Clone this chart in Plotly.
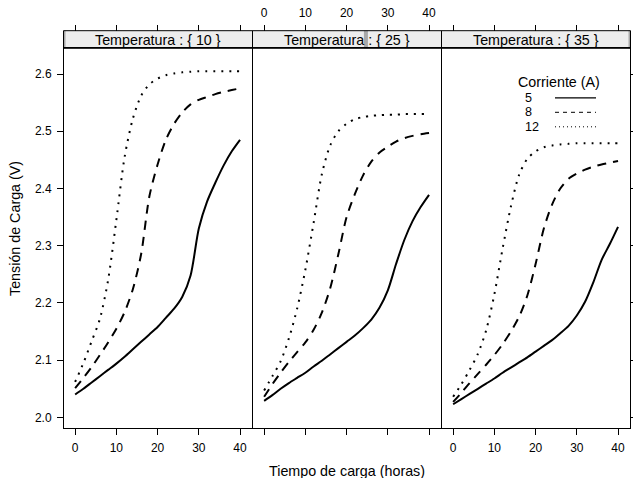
import math
import plotly.graph_objects as go

# Charge time grid (hours) shared by every curve
horas = list(range(0, 41, 2))

temperaturas = [10, 25, 35]
corrientes = [5, 8, 12]
etiquetas_x = [0, 10, 20, 30, 40]
etiquetas_y = [2.0, 2.1, 2.2, 2.3, 2.4, 2.5, 2.6]

# Charge voltage (V) per temperature and current
v_t10_i5 = [2.040, 2.050, 2.061, 2.072, 2.083, 2.094, 2.106, 2.119, 2.132, 2.145, 2.158,
            2.174, 2.190, 2.211, 2.248, 2.330, 2.377, 2.410, 2.440, 2.465, 2.485]
v_t10_i8 = [2.051, 2.069, 2.088, 2.109, 2.131, 2.155, 2.184, 2.224, 2.285, 2.386, 2.442,
            2.485, 2.513, 2.533, 2.547, 2.555, 2.560, 2.565, 2.569, 2.572, 2.575]
v_t10_i12 = [2.062, 2.095, 2.133, 2.172, 2.240, 2.345, 2.455, 2.522, 2.562, 2.582, 2.592,
             2.598, 2.601, 2.603, 2.604, 2.605, 2.605, 2.605, 2.605, 2.605, 2.605]

v_t25_i5 = [2.029, 2.039, 2.050, 2.060, 2.069, 2.078, 2.089, 2.099, 2.110, 2.121, 2.132,
            2.143, 2.156, 2.171, 2.192, 2.222, 2.268, 2.310, 2.343, 2.368, 2.389]
v_t25_i8 = [2.036, 2.058, 2.078, 2.097, 2.114, 2.131, 2.153, 2.183, 2.225, 2.285, 2.350,
            2.390, 2.423, 2.447, 2.463, 2.473, 2.482, 2.488, 2.492, 2.495, 2.497]
v_t25_i12 = [2.047, 2.072, 2.098, 2.138, 2.190, 2.258, 2.340, 2.425, 2.475, 2.500, 2.513,
             2.521, 2.525, 2.527, 2.528, 2.529, 2.529, 2.530, 2.530, 2.530, 2.530]

v_t35_i5 = [2.023, 2.032, 2.041, 2.050, 2.059, 2.068, 2.078, 2.087, 2.096, 2.105, 2.115,
            2.125, 2.135, 2.147, 2.160, 2.178, 2.202, 2.236, 2.275, 2.303, 2.333]
v_t35_i8 = [2.027, 2.043, 2.060, 2.076, 2.092, 2.109, 2.128, 2.150, 2.176, 2.213, 2.268,
            2.330, 2.372, 2.400, 2.417, 2.426, 2.433, 2.438, 2.442, 2.445, 2.448]
v_t35_i12 = [2.036, 2.058, 2.083, 2.111, 2.152, 2.215, 2.295, 2.368, 2.424, 2.452, 2.465,
             2.472, 2.475, 2.477, 2.478, 2.479, 2.479, 2.479, 2.479, 2.479, 2.479]

series = {
    10: [v_t10_i5, v_t10_i8, v_t10_i12],
    25: [v_t25_i5, v_t25_i8, v_t25_i12],
    35: [v_t35_i5, v_t35_i8, v_t35_i12],
}

W, H = 633, 478
FONT = "Liberation Sans, Arial, Helvetica, sans-serif"


def fx(px):
    return px / W


def fy(py):
    return 1 - py / H


# panel geometry in pixels; neighbouring panels share one border line
inicios = [64, 253, 442]
finales = [252, 441, 630]
panel_top, panel_bottom = 48.3, 427.7
strip_top = 30.7
xr = [-2.7, 42.9]
yr = [1.982, 2.645]

estilos = [
    dict(dash="solid", width=2),
    dict(dash="9px,7px", width=2),
    dict(dash="2px,6px", width=2),
]
estilos_leyenda = [
    dict(dash="solid", width=1.2),
    dict(dash="4px,4px", width=1),
    dict(dash="1px,3px", width=1),
]

fig = go.Figure()

for i, t in enumerate(temperaturas):
    sx = "x" if i == 0 else f"x{i + 1}"
    sy = "y" if i == 0 else f"y{i + 1}"
    for j, c in enumerate(corrientes):
        fig.add_trace(go.Scatter(
            x=horas, y=series[t][j], xaxis=sx, yaxis=sy, mode="lines",
            line=dict(color="black", shape="spline", smoothing=0.8, **estilos[j]),
            showlegend=False, hoverinfo="skip",
        ))
    # empty trace so the tick row above each strip is laid out
    fig.add_trace(go.Scatter(
        x=etiquetas_x, y=[math.nan] * len(etiquetas_x),
        xaxis=f"x{i + 4}", yaxis=sy, mode="lines",
        showlegend=False, hoverinfo="skip",
    ))

tickfont = dict(family=FONT, size=12, color="black")
ejes = {}
for i in range(3):
    dom = [fx(inicios[i]), fx(finales[i])]
    n = "" if i == 0 else str(i + 1)
    ejes[f"xaxis{n}"] = dict(
        domain=dom, anchor=f"y{n}", range=xr, tickvals=etiquetas_x,
        ticks="outside", ticklen=6, tickwidth=1, tickcolor="black",
        showticklabels=(i != 1), tickfont=tickfont, ticklabelstandoff=3,
        showline=True, linecolor="black", linewidth=1, mirror=True,
        showgrid=False, zeroline=False, fixedrange=True,
    )
    ejes[f"yaxis{n}"] = dict(
        domain=[fy(panel_bottom), fy(panel_top)], anchor=f"x{n}", range=yr,
        tickvals=etiquetas_y, tickformat=".1f",
        ticks=("" if i == 1 else "outside"), ticklen=6, tickwidth=1, tickcolor="black",
        side=("right" if i == 2 else "left"),
        showticklabels=(i == 0), tickfont=tickfont, ticklabelstandoff=3,
        showline=True, linecolor="black", linewidth=1, mirror=True,
        showgrid=False, zeroline=False, fixedrange=True,
    )
    # tick row above the strips
    ejes[f"xaxis{i + 4}"] = dict(
        domain=dom, overlaying=f"x{n}", anchor="free", position=fy(strip_top),
        side="top", range=xr, tickvals=etiquetas_x,
        ticks="outside", ticklen=6, tickwidth=1, tickcolor="black",
        showticklabels=(i == 1), tickfont=tickfont, ticklabelstandoff=3,
        showline=False, showgrid=False, zeroline=False, fixedrange=True,
    )

shapes = []
annotations = []
posiciones_nivel = [0.0, 0.6, 1.0]
for i, t in enumerate(temperaturas):
    x0, x1 = inicios[i] - 0.5, finales[i] + 0.5
    shapes.append(dict(type="rect", xref="paper", yref="paper",
                       x0=fx(x0), x1=fx(x1), y0=fy(panel_top), y1=fy(strip_top),
                       fillcolor="#EDEDED", line=dict(width=0), layer="below"))
    p = x0 + posiciones_nivel[i] * (x1 - x0)
    a, b = max(x0, p - 2), min(x1, p + 2)
    shapes.append(dict(type="rect", xref="paper", yref="paper",
                       x0=fx(a), x1=fx(b), y0=fy(panel_top), y1=fy(strip_top),
                       fillcolor="#A8A8A8", line=dict(width=0), layer="below"))
    shapes.append(dict(type="rect", xref="paper", yref="paper",
                       x0=fx(x0), x1=fx(x1), y0=fy(panel_top), y1=fy(strip_top),
                       fillcolor="rgba(0,0,0,0)", line=dict(color="black", width=1)))
    annotations.append(dict(
        xref="paper", yref="paper", x=fx((x0 + x1) / 2), y=fy(39.5),
        text=f"Temperatura : {{ {t} }}", showarrow=False,
        xanchor="center", yanchor="middle",
        font=dict(family=FONT, size=14.3, color="black"),
    ))

# key for the current levels
annotations.append(dict(xref="paper", yref="paper", x=fx(559.2), y=fy(82.3),
                        text="Corriente (A)", showarrow=False,
                        xanchor="center", yanchor="middle",
                        font=dict(family=FONT, size=14.3, color="black")))
filas = [97.8, 112.3, 126.8]
for j, c in enumerate(corrientes):
    annotations.append(dict(xref="paper", yref="paper", x=fx(523.7), y=fy(filas[j]),
                            text=str(c), showarrow=False,
                            xanchor="left", yanchor="middle", borderpad=0,
                            font=dict(family=FONT, size=12.6, color="black")))
    shapes.append(dict(type="line", xref="paper", yref="paper",
                       x0=fx(555), x1=fx(596), y0=fy(filas[j]), y1=fy(filas[j]),
                       line=dict(color="black", **estilos_leyenda[j])))

annotations.append(dict(xref="paper", yref="paper", x=fx(346.5), y=fy(470.7),
                        text="Tiempo de carga (horas)", showarrow=False,
                        xanchor="center", yanchor="middle",
                        font=dict(family=FONT, size=14.3, color="black")))
annotations.append(dict(xref="paper", yref="paper", x=fx(15), y=fy(229),
                        text="Tensión de Carga (V)", showarrow=False, textangle=-90,
                        xanchor="center", yanchor="middle",
                        font=dict(family=FONT, size=14.3, color="black")))

fig.update_layout(
    width=W, height=H,
    margin=dict(l=0, r=0, t=0, b=0, autoexpand=False),
    paper_bgcolor="white", plot_bgcolor="white",
    showlegend=False,
    shapes=shapes, annotations=annotations,
    **ejes,
)

fig.write_html("out.html", config={"displayModeBar": False})
